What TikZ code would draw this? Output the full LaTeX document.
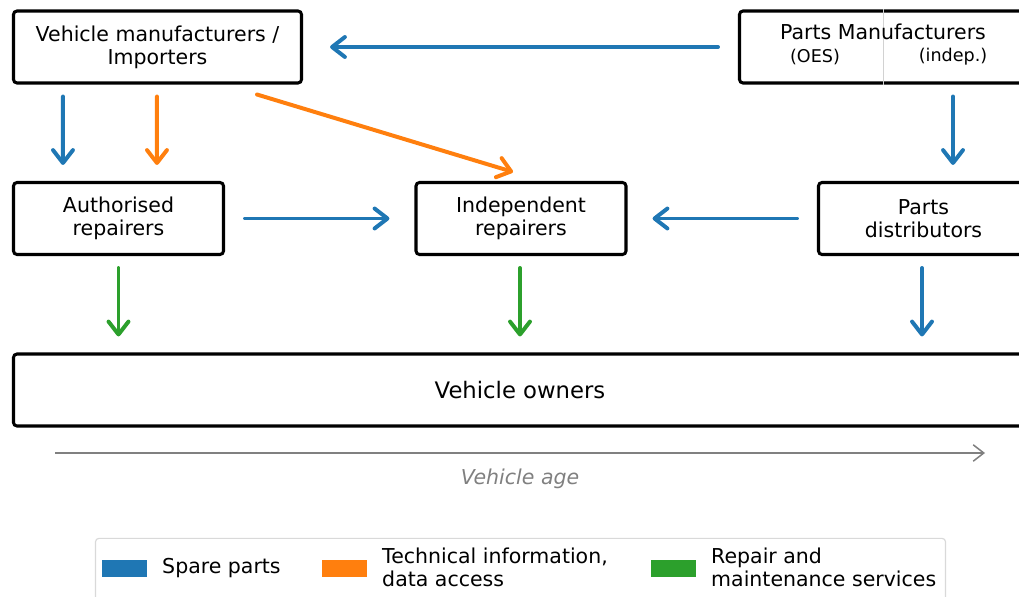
\documentclass[tikz,border=0pt]{standalone}
\usepackage{fontspec}
\setmainfont{DejaVu Sans}
\usepackage{xcolor}
\usetikzlibrary{calc,arrows.meta}
\definecolor{bluex}{HTML}{1F77B4}
\definecolor{orangex}{HTML}{FF7F0E}
\definecolor{greenx}{HTML}{2CA02C}
\definecolor{agegray}{HTML}{808080}
\newcommand{\fnorm}{\fontsize{17.5pt}{19.6pt}\selectfont}
\newcommand{\fbig}{\fontsize{19.4pt}{22pt}\selectfont}
\newcommand{\fsmall}{\fontsize{15pt}{18pt}\selectfont}
\tikzset{
  box/.style={draw=black,line width=2.6pt,rounded corners=3pt,align=center,inner sep=0pt,
    minimum height=2.16cm,font=\fnorm},
  flow/.style={-{Straight Barb[length=11pt,width=17pt,line width=3.4pt,round]},line width=3.4pt,line cap=round},
  sp/.style={flow,bluex},
  ti/.style={flow,orangex},
  rm/.style={flow,greenx},
  patch/.style={minimum width=1.35cm,minimum height=0.51cm,inner sep=0pt},
  lab/.style={font=\fnorm,align=left,anchor=west,inner sep=0pt}
}
\begin{document}
\begin{tikzpicture}[x=0.03cm,y=-0.03cm]
\useasboundingbox (0,0) rectangle (1019,597);
\clip (0,0) rectangle (1019,597);
% boxes
\node[box,minimum width=8.64cm] (vm) at (157.5,47) {Vehicle manufacturers /\\Importers};
\node[box,minimum width=8.64cm] (pm) at (883.5,47) {};
\draw[gray!35,line width=1.4pt] (pm.north) -- (pm.south);
\node[font=\fnorm,inner sep=0pt] (pmt) at (883,32) {Parts Manufacturers};
\node[font=\fsmall,inner sep=0pt] (oes) at (815,57) {(OES)};
\node[font=\fsmall,inner sep=0pt] (ind) at (953,57) {(indep.)};
\node[box,minimum width=6.3cm] (ar) at (118.5,218.5) {Authorised\\repairers};
\node[box,minimum width=6.3cm] (ir) at (521,218.5) {Independent\\repairers};
\node[box,minimum width=6.3cm] (pd) at (923.5,218.5) {Parts\\distributors};
\node[box,minimum width=30.39cm,font=\fbig] (vo) at (520,390) {Vehicle owners};
% flows
\draw[sp] ($(pm.west)+(-20,0)$) -- ($(vm.east)+(27,0)$);
\draw[sp] ($(vm.south west)+(51,12)$) -- ($(ar.north west)+(51,-16)$);
\draw[ti] ($(vm.south west)+(145,12)$) -- ($(ar.north west)+(145,-16)$);
\draw[ti] ($(vm.south east)+(-46,10)$) -- ($(ir.north)+(-8,-9)$);
\draw[sp] ($(pm.south)+(69.5,12)$) -- ($(pd.north)+(29.5,-16)$);
\draw[sp] ($(ar.east)+(20,0)$) -- ($(ir.west)+(-25,0)$);
\draw[sp] ($(pd.west)+(-20,0)$) -- ($(ir.east)+(25,0)$);
\draw[rm] ($(ar.south)+(0,12)$) -- ($(ar.south |- vo.north)+(0,-16)$);
\draw[rm] ($(ir.south)+(-1,12)$) -- ($(ir.south |- vo.north)+(-1,-16)$);
\draw[sp] ($(pd.south)+(-1.5,12)$) -- ($(pd.south |- vo.north)+(-1.5,-16)$);
% vehicle age
\coordinate (a0) at (55,453);
\coordinate (a1) at (985,453);
\draw[agegray,line width=1.3pt,-{Straight Barb[length=9pt,width=14pt,line width=1.3pt]}] (a0) -- (a1);
\node[agegray,font=\fnorm\itshape,inner sep=0pt] (age) at (520,479) {Vehicle age};
% legend
\node[draw=gray!30,line width=1pt,rounded corners=3pt,minimum width=25.5cm,minimum height=2.2cm] (lgd) at (520.5,575) {};
\node[patch,fill=bluex] (p1) at (124.5,568.5) {};
\node[lab] (l1) at (162,568.5) {Spare parts};
\node[patch,fill=orangex] (p2) at (344,568.5) {};
\node[lab] (l2) at (382,567) {Technical information,\\data access};
\node[patch,fill=greenx] (p3) at (673.5,568.5) {};
\node[lab] (l3) at (711,567) {Repair and\\maintenance services};
\end{tikzpicture}
\end{document}
